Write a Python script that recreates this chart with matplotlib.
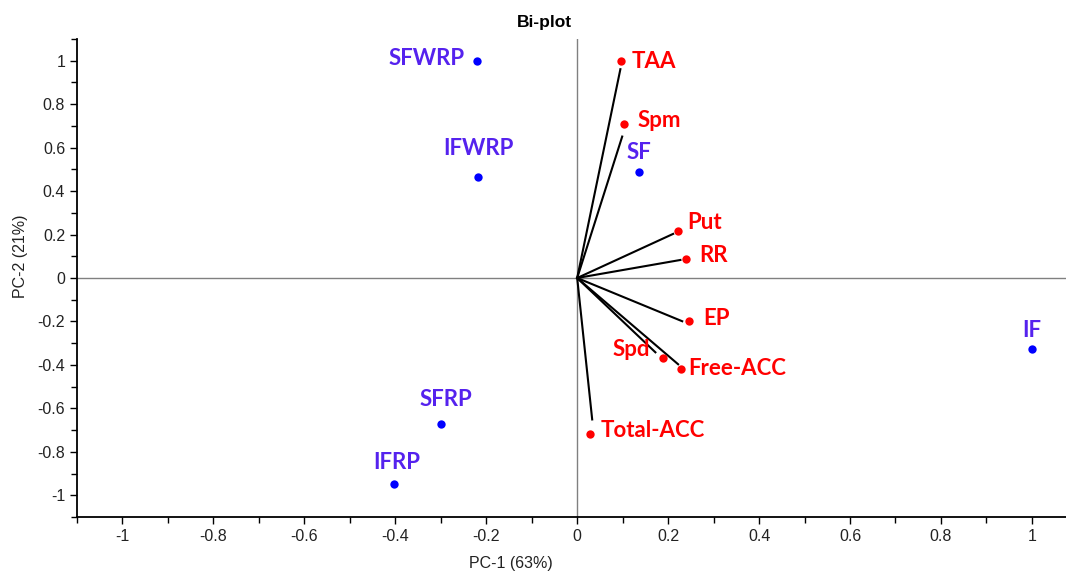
import matplotlib
matplotlib.use("Agg")
import matplotlib.pyplot as plt
from matplotlib.ticker import MultipleLocator, FuncFormatter

# Samples (scores)
sample_names = ["SFWRP", "IFWRP", "SF", "IF", "SFRP", "IFRP"]
sample_x = [-0.220, -0.218, 0.136, 1.000, -0.300, -0.403]
sample_y = [1.000, 0.467, 0.490, -0.328, -0.674, -0.950]

# Variables (loadings): marker positions
var_names = ["TAA", "Spm", "Put", "RR", "EP", "Spd", "Free-ACC", "Total-ACC"]
var_x = [0.097, 0.103, 0.222, 0.240, 0.246, 0.189, 0.229, 0.029]
var_y = [0.998, 0.711, 0.217, 0.088, -0.199, -0.370, -0.420, -0.716]
# loading vector end points
vec_x = [0.095, 0.099, 0.211, 0.227, 0.231, 0.172, 0.222, 0.033]
vec_y = [0.961, 0.651, 0.203, 0.083, -0.199, -0.342, -0.397, -0.651]

# label offsets (pixels) and alignment
sample_off = {"SFWRP": (-12, 2, "right"), "IFWRP": (0, 28, "center"),
              "SF": (0, 19, "center"), "IF": (0, 19, "center"),
              "SFRP": (5, 25, "center"), "IFRP": (3, 22, "center")}
var_off = {"TAA": (10, 0, "left"), "Spm": (14, 3, "left"), "Put": (9, 8, "left"),
           "RR": (13, 3, "left"), "EP": (14, 3, "left"), "Spd": (-13, 9, "right"),
           "Free-ACC": (7, 1, "left"), "Total-ACC": (10, 3, "left")}

fig = plt.figure(figsize=(10.66, 5.77), dpi=100)
ax = fig.add_axes([77/1066, 60/577, 1 - 77/1066, (517-39)/577])
ax.set_xlim(-1.1, 1.075)
ax.set_ylim(-1.1, 1.1)

ax.axhline(0, color="#808080", lw=1.0, zorder=1)
ax.axvline(0, color="#808080", lw=1.0, zorder=1)

for vx, vy in zip(vec_x, vec_y):
    ax.plot([0, vx], [0, vy], color="black", lw=1.5, zorder=2)

ax.plot(var_x, var_y, "o", color="#ff0000", ms=6, mec="none", zorder=3)
ax.plot(sample_x, sample_y, "o", color="#0000ff", ms=6, mec="none", zorder=3)

lab_font = ["Lato", "DejaVu Sans"]
for n, x, y in zip(var_names, var_x, var_y):
    dx, dy, ha = var_off[n]
    ax.annotate(n, (x, y), xytext=(dx, dy), textcoords="offset pixels",
                ha=ha, va="center", color="#ff0000", fontsize=16,
                fontweight="bold", family=lab_font)
for n, x, y in zip(sample_names, sample_x, sample_y):
    dx, dy, ha = sample_off[n]
    ax.annotate(n, (x, y), xytext=(dx, dy), textcoords="offset pixels",
                ha=ha, va="center", color="#5522ee", fontsize=16,
                fontweight="bold", family=lab_font)

ax.spines["top"].set_visible(False)
ax.spines["right"].set_visible(False)
ax.spines["left"].set_linewidth(1.3)
ax.spines["bottom"].set_linewidth(1.3)

ax.xaxis.set_major_locator(MultipleLocator(0.2))
ax.xaxis.set_minor_locator(MultipleLocator(0.1))
ax.yaxis.set_major_locator(MultipleLocator(0.2))
ax.yaxis.set_minor_locator(MultipleLocator(0.1))
fmt = FuncFormatter(lambda v, p: ("%g" % round(v, 2)) if abs(v) > 1e-9 else "0")
ax.xaxis.set_major_formatter(fmt)
ax.yaxis.set_major_formatter(fmt)
ax.tick_params(which="major", direction="out", length=5, width=1, labelsize=11.5,
               colors="black", labelcolor="#222222")
ax.tick_params(which="minor", direction="out", length=4, width=1)
for lab in ax.get_xticklabels() + ax.get_yticklabels():
    lab.set_family("Liberation Sans")

ax.set_xlabel("PC-1 (63%)", fontsize=11.5, family="Liberation Sans", color="#222222")
ax.set_ylabel("PC-2 (21%)", fontsize=11.5, family="Liberation Sans", color="#222222")
ax.xaxis.set_label_coords((511-77)/989, -0.082)
ax.yaxis.set_label_coords(-0.05, 0.545)
fig.text(544/1066, 1 - 23/577, "Bi-plot", ha="center", va="center",
         fontsize=12.5, fontweight="bold", family="Liberation Sans")

fig.savefig("out.png", dpi=100)
